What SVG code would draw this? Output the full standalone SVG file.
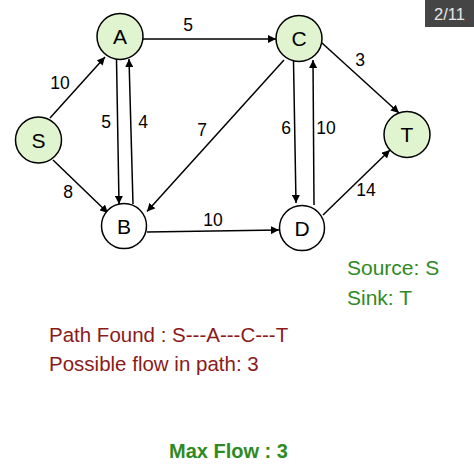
<svg xmlns="http://www.w3.org/2000/svg" width="474" height="474" viewBox="0 0 474 474">
<style>
.node circle{stroke:#000;stroke-width:1.5}
.g{fill:#e0f5cf}
.w{fill:#fff}
.node text{font-family:"Liberation Sans",Arial,sans-serif;font-size:21px;text-anchor:middle;fill:#000}
.edges line{stroke:#000;stroke-width:1.5;marker-end:url(#ah)}
.lbl{font-family:"Liberation Sans",Arial,sans-serif;font-size:17.5px;text-anchor:middle;fill:#000}
.green{fill:#2f8a23;font-family:"Liberation Sans",Arial,sans-serif}
.red{fill:#8b1a1a;font-family:"Liberation Sans",Arial,sans-serif;font-size:20.5px}
</style>
<defs>
<marker id="ah" viewBox="0 0 10 10" refX="10" refY="5" markerWidth="8" markerHeight="8" markerUnits="userSpaceOnUse" orient="auto">
<path d="M0,0 L10,5 L0,10 z" fill="#000"/>
</marker>
</defs>
<rect width="474" height="474" fill="#fff"/>
<g id="badge">
<rect x="425" y="0" width="49" height="27" fill="#454545"/>
<text x="449.5" y="20" font-family="Liberation Sans,Arial,sans-serif" font-size="16.5" fill="#e8e8e8" text-anchor="middle">2/11</text>
</g>
<g class="edges" id="edges">
<line x1="143" y1="39" x2="276" y2="39"/>
<line x1="50" y1="118" x2="105" y2="57"/>
<line x1="53" y1="160" x2="108" y2="213"/>
<line x1="116.5" y1="59" x2="119" y2="204"/>
<line x1="133" y1="204" x2="129" y2="59"/>
<line x1="284" y1="60" x2="147" y2="211.5"/>
<line x1="147" y1="232" x2="279" y2="230"/>
<line x1="293.5" y1="61" x2="296" y2="203"/>
<line x1="314" y1="205" x2="313" y2="60"/>
<line x1="322" y1="43" x2="399" y2="113"/>
<line x1="323" y1="215" x2="390" y2="150"/>
</g>
<g id="edge-labels">
<text class="lbl" x="188" y="31">5</text>
<text class="lbl" x="60" y="89">10</text>
<text class="lbl" x="68" y="198">8</text>
<text class="lbl" x="106" y="128">5</text>
<text class="lbl" x="143" y="128">4</text>
<text class="lbl" x="202" y="136">7</text>
<text class="lbl" x="213" y="226">10</text>
<text class="lbl" x="286" y="134">6</text>
<text class="lbl" x="326" y="134">10</text>
<text class="lbl" x="360" y="66">3</text>
<text class="lbl" x="366" y="196">14</text>
</g>
<g class="node" id="node-S"><circle class="g" cx="38.5" cy="140" r="23"/><text x="38.5" y="147.5">S</text></g>
<g class="node" id="node-A"><circle class="g" cx="120" cy="36.5" r="23"/><text x="120" y="44">A</text></g>
<g class="node" id="node-B"><circle class="w" cx="124" cy="226" r="22.5"/><text x="124" y="233.5">B</text></g>
<g class="node" id="node-C"><circle class="g" cx="299" cy="38.5" r="23"/><text x="299" y="46">C</text></g>
<g class="node" id="node-D"><circle class="w" cx="302" cy="228" r="22.5"/><text x="302" y="235.5">D</text></g>
<g class="node" id="node-T"><circle class="g" cx="407" cy="134.5" r="23"/><text x="407" y="142">T</text></g>
<g id="info">
<text class="green" x="347" y="275" font-size="21">Source: S</text>
<text class="green" x="347" y="305" font-size="21">Sink: T</text>
<text class="red" x="49" y="342">Path Found : S---A---C---T</text>
<text class="red" x="49" y="371">Possible flow in path: 3</text>
<text class="green" x="169" y="458" font-size="20" font-weight="bold">Max Flow : 3</text>
</g>
</svg>
